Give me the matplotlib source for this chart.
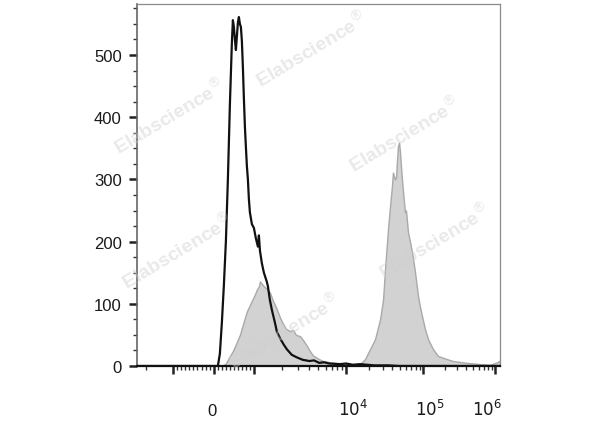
import numpy as np
import matplotlib
matplotlib.use('Agg')
import matplotlib.pyplot as plt
from matplotlib.transforms import ScaledTranslation

plt.rcParams['font.family'] = ['Liberation Sans', 'DejaVu Sans']

# control (black outline)
ctrl_x = [-2500, 100, 150, 200, 250, 300, 350, 400, 425, 450, 475, 500, 525, 550,
          575, 600, 625, 650, 675, 700, 725, 750, 775, 800, 825, 850, 875, 900,
          950, 1000, 1051, 1105, 1133, 1162, 1221, 1284, 1384, 1420, 1492, 1568,
          1690, 1778, 1914, 2117, 2277, 2576, 2914, 3378, 4004, 4500, 5122, 5800,
          6554, 8607, 10000, 12330, 15200, 23400, 36000, 48500, 1170000]
ctrl_y = [0, 0, 20, 70, 130, 200, 300, 420, 470, 520, 556, 545, 525, 508,
          530, 552, 561, 550, 545, 522, 480, 430, 385, 352, 321, 300, 268, 247,
          228, 222, 205, 192, 210, 186, 165, 150, 135, 128, 106, 90,
          70, 55, 45, 34, 27, 18, 14, 10, 8, 9, 5, 6,
          4, 3, 4, 2, 3, 1, 1, 0, 0]

# stained sample (gray filled)
stain_x = [-2500, 200, 300, 400, 475, 550, 650, 750, 825, 900, 950, 1025, 1078,
           1133, 1162, 1221, 1284, 1384, 1492, 1609, 1778, 1917, 2067, 2228, 2462,
           2654, 2861, 3162, 3409, 3767, 4061, 4377, 4963, 5623, 6700, 8610, 11270,
           15200, 17660, 20500, 23800, 27700, 30300, 32100, 35100, 37200, 39500,
           40700, 43200, 44600, 45900, 47300, 48800, 50200, 51800, 53300, 55000,
           58300, 60100, 63800, 67700, 71900, 78700, 86100, 91400, 97000, 106600,
           117300, 137600, 161600, 215300, 261000, 408000, 619000, 853000, 1066000,
           1137000, 1170000]
stain_y = [0, 0, 4, 16, 24, 35, 50, 72, 88, 98, 105, 115, 123,
           128, 136, 132, 128, 124, 118, 105, 91, 78, 68, 60, 56,
           58, 50, 48, 42, 32, 24, 17, 12, 8, 6, 4, 3,
           3, 11, 27, 43, 75, 107, 155, 220, 255, 289,
           311, 300, 303, 330, 353, 359, 345, 320, 300, 280,
           247, 250, 215, 200, 183, 151, 112, 95, 80, 59,
           43, 27, 16, 11, 8, 5, 3, 2, 6,
           8, 8]

y_ticks = [0, 100, 200, 300, 400, 500]
x_major = [-1000, 0, 1000, 1e4, 1e5, 1e6]
x_major_labels = ['', '0', '', '$10^4$', '$10^5$', '$10^6$']
x_label_shift = [0, -1, 0, 5, 5, -6]   # points
x_minor = ([-2000] + list(range(-900, 0, 100)) + list(range(100, 1000, 100))
           + [k * 10**e for e in (3, 4, 5) for k in range(2, 10)])

# logicle-like display: linear within +-1000, log beyond
S_ANCH = [-5, -2, -1, 0, 1, 2, 3, 4, 6]
P_ANCH = [-401, -131, -41, 0, 40, 132, 209, 281, 425]


def to_s(x):
    x = np.asarray(x, dtype=float)
    a = np.abs(x) / 1000.0
    s = np.where(a <= 1, a, 1 + np.log10(np.maximum(a, 1)))
    return np.sign(x) * s


def from_s(s):
    s = np.asarray(s, dtype=float)
    a = np.abs(s)
    return np.sign(s) * np.where(a <= 1, a, 10 ** (a - 1)) * 1000.0


def forward(x):
    return np.interp(to_s(x), S_ANCH, P_ANCH)


def inverse(p):
    return from_s(np.interp(np.asarray(p, dtype=float), P_ANCH, S_ANCH))


fig = plt.figure(figsize=(6, 4.27), dpi=100)
ax = fig.add_axes([137 / 600, 1 - 367 / 427, 363 / 600, 362 / 427])
ax.set_xscale('function', functions=(forward, inverse))

ax.fill_between(stain_x, stain_y, color='#d2d2d2', edgecolor='#a9a9a9', lw=1.0, zorder=2)
ax.plot(ctrl_x, ctrl_y, color='#111111', lw=1.6, zorder=3)

ax.set_xlim(-2500, 1.17e6)
ax.set_ylim(0, 582)

ax.set_xticks(x_major)
ax.set_xticklabels(x_major_labels)
ax.set_xticks(x_minor, minor=True)
ax.set_yticks(y_ticks)
ax.set_yticks(np.arange(0, 576, 25), minor=True)

ax.tick_params(axis='both', which='major', direction='out', length=6, width=1.8,
               color='#222222', labelsize=12, labelcolor='#1a1a1a')
ax.tick_params(axis='both', which='minor', direction='out', length=3, width=1.0,
               color='#333333')
ax.tick_params(axis='x', which='major', pad=29)
ax.tick_params(axis='y', which='major', pad=5)
for lab, dx in zip(ax.get_xticklabels(), x_label_shift):
    lab.set_verticalalignment('baseline')
    lab.set_transform(lab.get_transform() + ScaledTranslation(dx / 72, 0, fig.dpi_scale_trans))

for side in ['top', 'right']:
    ax.spines[side].set_color('#8a8a8a')
    ax.spines[side].set_linewidth(0.9)
ax.spines['left'].set_color('#666666')
ax.spines['left'].set_linewidth(1.2)
ax.spines['bottom'].set_color('#111111')
ax.spines['bottom'].set_linewidth(1.6)

# watermarks
marks = [(170, 117), (312, 50), (405, 135), (178, 252), (435, 242), (285, 332)]
for mx, my in marks:
    fig.text(mx / 600, 1 - my / 427, 'Elabscience$^{\u00ae}$', rotation=31, fontsize=14,
             fontweight='bold', color='#cfcfcf', alpha=0.45, ha='center', va='center',
             zorder=10)

fig.savefig('out.png', dpi=100)
